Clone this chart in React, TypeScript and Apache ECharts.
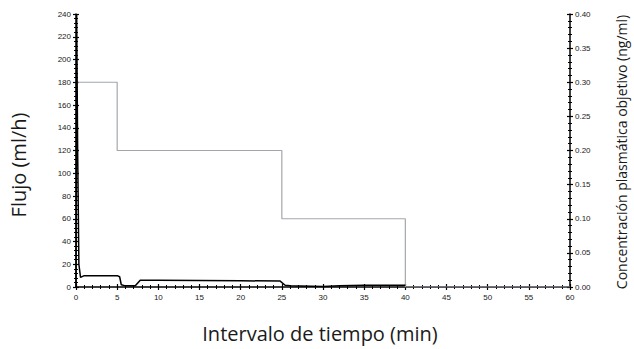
import React, { useEffect, useRef } from "react";
import * as echarts from "echarts";

const flowTime = [0, 0.08, 0.2, 0.35, 0.55, 1, 3, 5, 5.3, 5.5, 6, 7.2, 7.8, 10, 15, 20, 24.8, 25.4, 26, 30, 32, 35, 40];
const flowValue = [0, 240, 120, 20, 8.5, 10, 10, 10, 9, 2, 1, 1, 6, 6, 5.8, 5.5, 5.2, 1.5, 1, 0.5, 1, 1.5, 1.5];

const targetTime = [0, 5, 5, 25, 25, 40, 40, 60];
const targetConc = [0.3, 0.3, 0.2, 0.2, 0.1, 0.1, 0, 0];

const xTitle = "Intervalo de tiempo (min)";
const yLeftTitle = "Flujo (ml/h)";
const yRightTitle = "Concentración plasmática objetivo (ng/ml)";

export default function App() {
  const ref = useRef<HTMLDivElement>(null);
  useEffect(() => {
    const chart = echarts.init(ref.current!, null, { renderer: "svg" });
    const labelStyle = { fontFamily: "Liberation Sans, Arial", fontSize: 8, color: "#222" };
    const axisLine = { show: true, onZero: false, lineStyle: { color: "#000", width: 1.5 } };
    const noLine = { show: false, onZero: false };
    const tick = (inside: boolean) => ({ show: true, inside, length: 3, lineStyle: { color: "#000", width: 1.2 } });
    const minor = (n: number) => ({ show: true, splitNumber: n, length: 2, lineStyle: { color: "#000", width: 1 } });
    const baseX = { type: "value", min: 0, max: 60, interval: 5, splitLine: { show: false } };
    const baseYL = { type: "value", min: 0, max: 240, interval: 20, splitLine: { show: false } };
    const baseYR = { type: "value", min: 0, max: 0.4, interval: 0.05, splitLine: { show: false } };
    chart.setOption({
      animation: false,
      grid: { left: 76, right: 64, top: 14, bottom: 62 },
      xAxis: [
        { ...baseX, position: "bottom", axisLine, axisTick: tick(false), minorTick: minor(5), axisLabel: { ...labelStyle, margin: 6 } },
        { ...baseX, position: "bottom", axisLine: noLine, axisTick: tick(true), minorTick: minor(5), axisLabel: { show: false } },
      ],
      yAxis: [
        { ...baseYL, position: "left", axisLine, axisTick: tick(false), minorTick: minor(5), axisLabel: { ...labelStyle, margin: 5 } },
        { ...baseYR, position: "right", axisLine, axisTick: tick(false), minorTick: minor(5), axisLabel: { ...labelStyle, margin: 5, formatter: (v: number) => v.toFixed(2) } },
        { ...baseYL, position: "left", axisLine: noLine, axisTick: tick(true), minorTick: minor(5), axisLabel: { show: false } },
        { ...baseYR, position: "right", axisLine: noLine, axisTick: tick(true), minorTick: minor(5), axisLabel: { show: false } },
      ],
      series: [
        {
          type: "line",
          xAxisIndex: 0,
          yAxisIndex: 1,
          data: targetTime.map((t, i) => [t, targetConc[i]]),
          showSymbol: false,
          lineStyle: { color: "#a3a7ad", width: 1.2 },
          z: 3,
        },
        {
          type: "line",
          xAxisIndex: 0,
          yAxisIndex: 0,
          data: flowTime.map((t, i) => [t, flowValue[i]]),
          showSymbol: false,
          lineStyle: { color: "#000", width: 1.5 },
          z: 4,
        },
      ],
      graphic: [
        { type: "text", x: 320, y: 333, style: { text: xTitle, fontFamily: "Open Sans", fontSize: 20, fill: "#1a1a1a", align: "center", verticalAlign: "middle" } },
        { type: "text", x: 18, y: 165, rotation: Math.PI / 2, style: { text: yLeftTitle, fontFamily: "Open Sans", fontSize: 20, fill: "#1a1a1a", align: "center", verticalAlign: "middle" } },
        { type: "text", x: 621, y: 152, rotation: Math.PI / 2, style: { text: yRightTitle, fontFamily: "Open Sans", fontSize: 14, fill: "#1a1a1a", align: "center", verticalAlign: "middle" } },
      ],
    });
    return () => chart.dispose();
  }, []);
  return <div ref={ref} style={{ width: 634, height: 349, position: "absolute", left: 0, top: 0 }} />;
}
